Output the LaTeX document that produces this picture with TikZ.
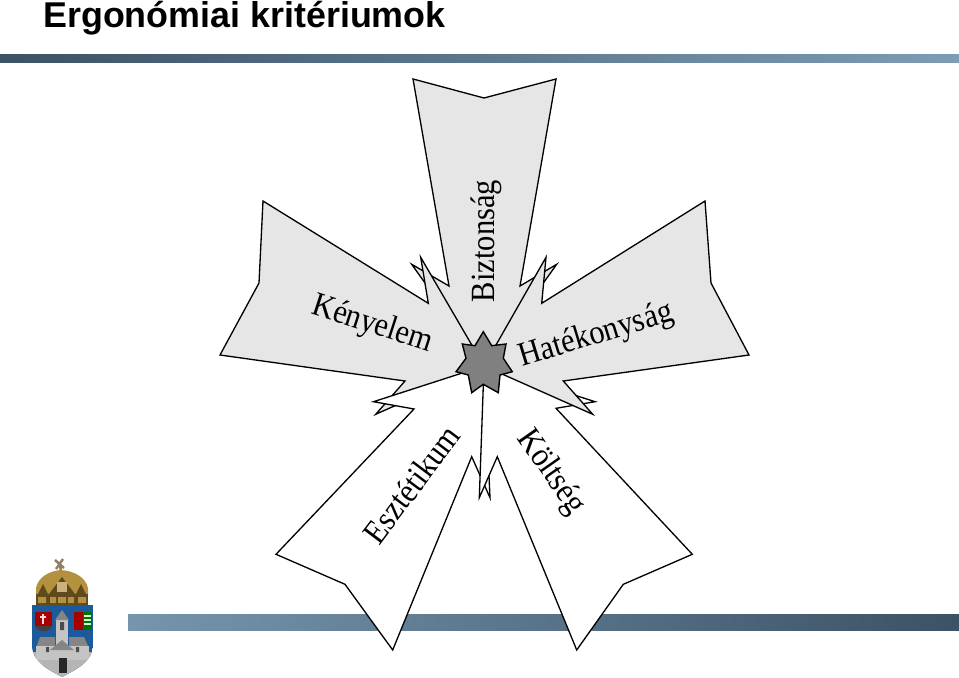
\documentclass[tikz,border=0pt]{standalone}
\usepackage{fontspec}
\setmainfont{Liberation Serif}
\setsansfont{Liberation Sans}
\newfontfamily\petalfont[FakeStretch=0.9]{Liberation Serif}
\usetikzlibrary{positioning, calc}

\definecolor{barDark}{HTML}{3C5266}
\definecolor{barLight}{HTML}{7C9DB5}
\definecolor{arrowGray}{HTML}{E6E6E6}
\definecolor{hubGray}{HTML}{808080}
\definecolor{crownGold}{HTML}{B4913F}
\definecolor{crownDark}{HTML}{5F4A1E}
\definecolor{shieldBlue}{HTML}{1D5A9C}
\definecolor{stoneGray}{HTML}{B5B5B5}
\definecolor{roofGray}{HTML}{858585}

\begin{document}
\begin{tikzpicture}[
        x=0.02cm, y=-0.02cm,
        petal/.style={draw=black, line width=0.75pt, line join=miter, fill=white},
        graypetal/.style={petal, fill=arrowGray},
        hub/.style={draw=black, line width=0.8pt, fill=hubGray},
        petallabel/.style={font=\petalfont\fontsize{19.3}{23}\selectfont, anchor=base, inner sep=0pt, text=black},
        titlelabel/.style={font=\fontsize{20.4}{24}\selectfont\sffamily\bfseries, anchor=base west, inner sep=0pt}
    ]
        \useasboundingbox (0,0) rectangle (959,678);

        % Slide frame
        \node[titlelabel] (title) at (43,27.5) {Ergonómiai kritériumok};
        \fill[left color=barDark, right color=barLight] (0,55) rectangle (959,63);
        \fill[left color=barLight!90!barDark, right color=barDark] (128,614) rectangle (959,630);

        % Crest
        \draw[crownDark!70, line width=1.4pt] (55,560) -- (64,568) (63,559) -- (56,569) (60,565) -- (61,572);
        \fill[crownGold] (36,596) -- (36,588) .. controls (38,578) and (48,571) .. (61,570) .. controls (75,571) and (86,578) .. (88,588) -- (88,596) -- cycle;
        \fill[crownDark] (38,594) -- (43,584) -- (48,594) -- cycle (49,594) -- (62,577) -- (75,594) -- cycle (76,594) -- (81,584) -- (86,594) -- cycle;
        \fill[crownGold!70] (57,592) rectangle (67,582);
        \fill[crownDark] (36,594) rectangle (88,605);
        \fill[crownGold] (38,597) rectangle (46,603) (50,597) rectangle (56,603) (58,597) rectangle (66,603) (68,597) rectangle (74,603) (78,597) rectangle (86,603);
        \begin{scope}
            \clip (32,605) -- (93,605) -- (93,645) .. controls (93,662) and (75,670) .. (62,677) .. controls (49,670) and (32,662) .. (32,645) -- cycle;
            \fill[shieldBlue] (32,605) rectangle (93,677);
            % castle
            \fill[stoneGray] (32,652) rectangle (93,677);
            \fill[roofGray] (36,648) -- (40,637) -- (55,637) -- (55,648) -- cycle (69,648) -- (69,637) -- (84,637) -- (89,648) -- cycle;
            \fill[stoneGray!80!white] (36,646) rectangle (89,660);
            \fill[stoneGray!80!white] (56,620) rectangle (68,650);
            \fill[roofGray] (55,620) -- (62,610) -- (69,620) -- cycle;
            \fill[roofGray] (50,650) -- (62,640) -- (74,650) -- cycle;
            \fill[black!85] (59,658) rectangle (67,673);
            \fill[black!70] (60,622) rectangle (64,630) (46,647) rectangle (49,652) (76,647) rectangle (79,652);
        \end{scope}
        \fill[red!65!black] (35,612) rectangle (52,626);
        \fill[black!75] (35,626) -- (52,626) .. controls (50,632) and (43,632) .. (39,630) -- cycle;
        \draw[white!85!red, line width=0.8pt] (43,614) -- (43,624) (40,617) -- (46,617);
        \fill[red!65!black] (74,612) rectangle (83,630);
        \fill[green!45!black] (83,612) rectangle (92,630);
        \draw[white!80!green, line width=0.6pt] (84,616) -- (91,616) (84,620) -- (91,620) (84,624) -- (91,624);

        % Petals, each one over the one before
        \coordinate (centre) at (484,366);
        \path[graypetal] (centre) -- (411.7,264.3) -- (449,286) -- (413,79) -- (484,98) -- (556,79) -- (520,286) -- (556.7,264.3) -- cycle;
        \path[graypetal] (centre) -- (420.7,257.3) -- (428.3,303.3) -- (263,201) -- (259,283) -- (220,355) -- (405,381) -- (375.7,414.3) -- cycle;
        \path[petal] (centre) -- (373.5,401.7) -- (414,409) -- (276,554.3) -- (345,584.3) -- (392.7,650) -- (471.7,456.7) -- (490,497.7) -- cycle;
        \path[petal] (centre) -- (479.3,497.7) -- (497.3,456.7) -- (576.7,650) -- (623.3,584.3) -- (692.3,554.3) -- (556,408.3) -- (595,401.7) -- cycle;
        \path[graypetal] (centre) -- (592.7,414.3) -- (563.3,381) -- (749,355) -- (711,283) -- (705,201) -- (541.7,303.3) -- (546,257.3) -- cycle;

        % Hub star
        \path[hub] (483.3,331.7) -- (491.7,345.7) -- (506,344) -- (503.3,358.3) -- (512.3,371.7) -- (500,375) -- (498.3,392.7) -- (483.3,384.3) -- (471.7,392.7) -- (468.3,375) -- (456,371.7) -- (466,358.3) -- (462.3,344) -- (475,345.7) -- cycle;

        % Labels
        \node[petallabel, rotate=90] (safety) at (494,241) {Biztonság};
        \node[petallabel, rotate=-18] (comfort) at (369.7,332.7) {Kényelem};
        \node[petallabel, rotate=17] (efficiency) at (598.5,343.5) {Hatékonyság};
        \node[petallabel, rotate=53] (aesthetics) at (420.7,491.3) {Esztétikum};
        \node[petallabel, rotate=-55] (cost) at (544,477) {Költség};
    \end{tikzpicture}
\end{document}
